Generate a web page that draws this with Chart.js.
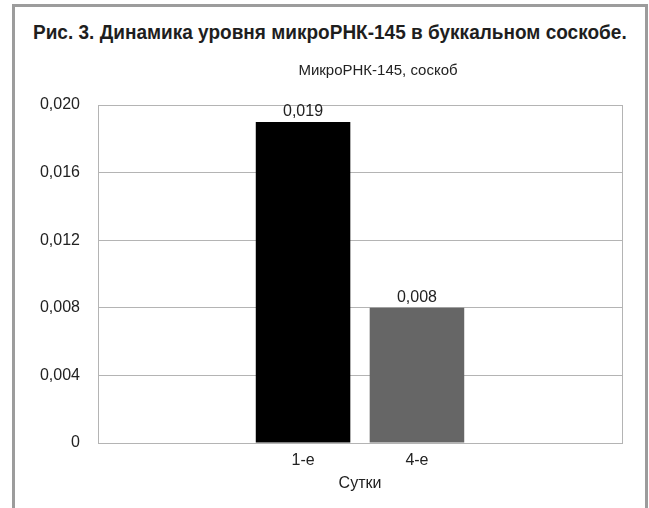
<!DOCTYPE html>
<html>
<head>
<meta charset="utf-8">
<script src="https://cdn.jsdelivr.net/npm/chart.js@4.4.0/dist/chart.umd.min.js"></script>
<style>
  html, body { margin: 0; padding: 0; background: #fff; }
  #frame {
    position: absolute; left: 12px; top: 4px; width: 630px; height: 520px;
    border: 3px solid #9c9c9c; border-bottom: none;
  }
  #caption {
    position: absolute; left: 33px; top: 20px; white-space: nowrap;
    font: bold 21px "Liberation Sans", Arial, sans-serif;
    color: #1e1e1e; transform-origin: 0 0;
  }
  #wrap { position: absolute; left: 0; top: 0; width: 649px; height: 508px; }
</style>
</head>
<body>
<div id="frame"></div>
<div id="caption">Рис. 3. Динамика уровня микроРНК-145 в буккальном соскобе.</div>
<div id="wrap"><canvas id="chart"></canvas></div>
<script>
const chartTitle = 'МикроРНК-145, соскоб';
const categories = ['1-е', '4-е'];
const values = [0.019, 0.008];
const barColors = ['#000000', '#666666'];
const yTicks = [0, 0.004, 0.008, 0.012, 0.016, 0.020];
const xTitle = 'Сутки';

// squeeze the caption to the narrow width of the original
const cap = document.getElementById('caption');
cap.style.transform = 'scaleX(' + (594 / cap.offsetWidth) + ')';

const fmt = v => v === 0 ? '0' : v.toFixed(3).replace('.', ',');
const gridColor = '#b4b4b4';
const textColor = '#222';
const font = { family: '"Liberation Sans", Arial, sans-serif', size: 16 };

// frame around plot, subtitle and value labels
const extras = {
  id: 'extras',
  beforeDatasetsDraw(chart) {
    const { ctx, chartArea: a } = chart;
    ctx.save();
    ctx.strokeStyle = gridColor;
    ctx.lineWidth = 1;
    ctx.strokeRect(a.left + 0.5, a.top + 0.5, a.right - a.left, a.bottom - a.top);
    ctx.restore();
  },
  afterDatasetsDraw(chart) {
    const { ctx, chartArea: a } = chart;
    ctx.save();
    ctx.font = '16px "Liberation Sans", Arial, sans-serif';
    ctx.fillStyle = textColor;
    ctx.textAlign = 'center';
    ctx.textBaseline = 'bottom';
    chart.getDatasetMeta(0).data.forEach((bar, i) => {
      ctx.fillText(fmt(values[i]), bar.x, bar.y - 2);
    });
    ctx.font = '15px "Liberation Sans", Arial, sans-serif';
    ctx.textBaseline = 'middle';
    ctx.fillText(chartTitle, (a.left + a.right) / 2 + 18, 71);
    ctx.restore();
  }
};

new Chart(document.getElementById('chart'), {
  type: 'bar',
  data: {
    datasets: [{
      data: categories.map((c, i) => ({ x: i, y: values[i] })),
      backgroundColor: barColors,
      barPercentage: 0.83,
      categoryPercentage: 1
    }]
  },
  options: {
    responsive: true,
    maintainAspectRatio: false,
    animation: false,
    layout: { padding: { top: 105, right: 27, left: 0, bottom: 0 } },
    plugins: {
      legend: { display: false },
      tooltip: { enabled: false }
    },
    scales: {
      x: {
        type: 'linear',
        offset: false,
        min: -1.8,
        max: 2.8,
        afterBuildTicks: s => { s.ticks = categories.map((c, i) => ({ value: i })); },
        afterFit: s => { s.height = 65; },
        grid: { display: false, drawTicks: false },
        border: { display: false },
        ticks: { callback: v => categories[v], color: textColor, font, padding: 8, autoSkip: false, maxRotation: 0 },
        title: { display: true, text: xTitle, color: textColor, font, padding: { top: 0, bottom: 15 } }
      },
      y: {
        min: 0,
        max: 0.02,
        afterBuildTicks: s => { s.ticks = yTicks.map(v => ({ value: v })); },
        afterFit: s => { s.width = 98; },
        grid: { color: gridColor, drawTicks: false },
        border: { display: false },
        ticks: { callback: v => fmt(v), color: textColor, font, padding: 18 }
      }
    }
  },
  plugins: [extras]
});
</script>
</body>
</html>
